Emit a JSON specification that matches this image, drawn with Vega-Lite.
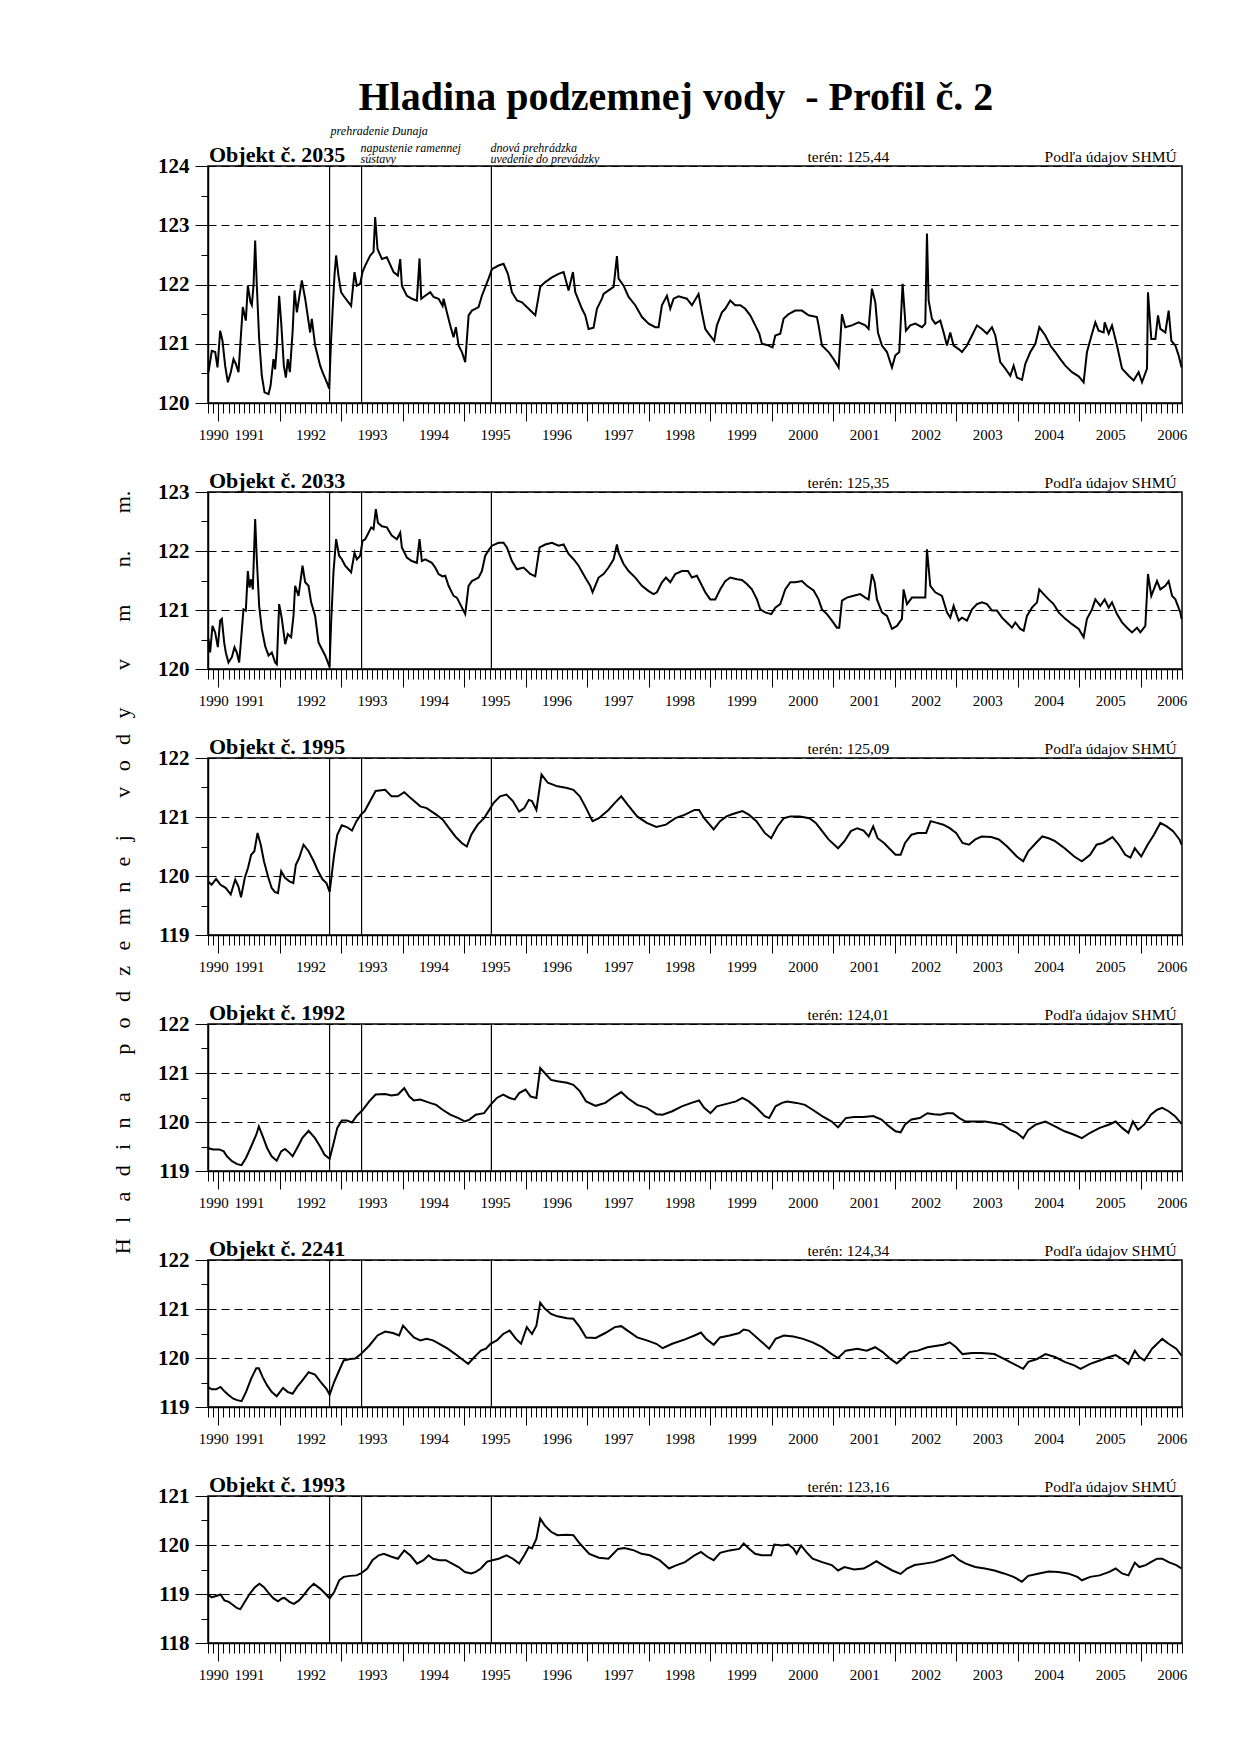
{
  "$schema": "https://vega.github.io/schema/vega-lite/v6.json",
  "background": "white",
  "padding": {"left": 110, "top": 78, "right": 5, "bottom": 5},
  "title": {"text": "Hladina podzemnej vody \u00a0- Profil č. 2", "font": "Liberation Serif", "fontSize": 40, "fontWeight": "bold", "color": "black", "anchor": "middle", "offset": 6.5, "dx": 27},
  "config": {
    "view": {"stroke": "black", "strokeWidth": 1.5},
    "axis": {"domainColor": "black", "domainWidth": 1.5, "tickColor": "black", "tickWidth": 1, "labelColor": "black", "labelFont": "Liberation Serif", "gridColor": "black", "gridDash": [8, 5], "gridWidth": 1, "titleColor": "black", "titleFont": "Liberation Serif"},
    "axisX": {"labelFontSize": 15, "labelPadding": 6, "tickSize": 18, "labelOverlap": false, "labelFlush": false, "labelBound": false, "grid": false},
    "axisY": {"labelFontSize": 21, "labelFontWeight": "bold", "labelPadding": 6, "tickSize": 13, "grid": true, "labelOverlap": false},
    "text": {"font": "Liberation Serif", "color": "black"}
  },
  "bounds": "flush",
  "spacing": 89,
  "datasets": {
    "events": [{"t": 1992.81}, {"t": 1993.33}, {"t": 1995.44}],
    "notes": [
      {"t": 1992.81, "note": "prehradenie Dunaja", "group": "a"},
      {"t": 1993.33, "note": "napustenie ramennej\nsústavy", "group": "b"},
      {"t": 1995.44, "note": "dnová prehrádzka\nuvedenie do prevádzky", "group": "b"}
    ],
    "p2035": [
      {"t":1990.841,"v":120.52},{"t":1990.895,"v":120.88},{"t":1990.95,"v":120.86},{"t":1990.988,"v":120.6},{"t":1991.031,"v":121.22},{"t":1991.069,"v":121.05},{"t":1991.112,"v":120.63},{"t":1991.156,"v":120.35},{"t":1991.204,"v":120.52},{"t":1991.248,"v":120.74},{"t":1991.286,"v":120.66},{"t":1991.329,"v":120.52},{"t":1991.399,"v":121.62},{"t":1991.448,"v":121.39},{"t":1991.481,"v":121.98},{"t":1991.524,"v":121.7},{"t":1991.546,"v":121.65},{"t":1991.573,"v":121.98},{"t":1991.6,"v":122.74},{"t":1991.627,"v":121.98},{"t":1991.665,"v":121.08},{"t":1991.708,"v":120.46},{"t":1991.752,"v":120.18},{"t":1991.817,"v":120.15},{"t":1991.85,"v":120.29},{"t":1991.898,"v":120.74},{"t":1991.925,"v":120.57},{"t":1991.953,"v":120.97},{"t":1991.99,"v":121.81},{"t":1992.023,"v":121.36},{"t":1992.066,"v":120.63},{"t":1992.099,"v":120.43},{"t":1992.131,"v":120.74},{"t":1992.164,"v":120.52},{"t":1992.208,"v":121.19},{"t":1992.24,"v":121.9},{"t":1992.278,"v":121.53},{"t":1992.359,"v":122.07},{"t":1992.413,"v":121.76},{"t":1992.494,"v":121.19},{"t":1992.521,"v":121.42},{"t":1992.575,"v":120.97},{"t":1992.657,"v":120.63},{"t":1992.695,"v":120.52},{"t":1992.765,"v":120.35},{"t":1992.803,"v":120.24},{"t":1992.835,"v":121.08},{"t":1992.889,"v":122.15},{"t":1992.916,"v":122.49},{"t":1992.954,"v":122.15},{"t":1992.997,"v":121.87},{"t":1993.036,"v":121.81},{"t":1993.16,"v":121.64},{"t":1993.215,"v":122.21},{"t":1993.253,"v":121.98},{"t":1993.307,"v":122.01},{"t":1993.345,"v":122.21},{"t":1993.389,"v":122.32},{"t":1993.47,"v":122.49},{"t":1993.524,"v":122.55},{"t":1993.551,"v":123.14},{"t":1993.589,"v":122.6},{"t":1993.66,"v":122.43},{"t":1993.741,"v":122.46},{"t":1993.85,"v":122.21},{"t":1993.92,"v":122.15},{"t":1993.958,"v":122.43},{"t":1993.985,"v":121.98},{"t":1994.066,"v":121.81},{"t":1994.147,"v":121.76},{"t":1994.229,"v":121.73},{"t":1994.272,"v":122.44},{"t":1994.3,"v":121.76},{"t":1994.364,"v":121.81},{"t":1994.446,"v":121.87},{"t":1994.5,"v":121.79},{"t":1994.582,"v":121.76},{"t":1994.647,"v":121.64},{"t":1994.663,"v":121.76},{"t":1994.717,"v":121.53},{"t":1994.771,"v":121.31},{"t":1994.825,"v":121.11},{"t":1994.863,"v":121.28},{"t":1994.907,"v":120.97},{"t":1994.961,"v":120.86},{"t":1995.015,"v":120.69},{"t":1995.07,"v":121.48},{"t":1995.123,"v":121.56},{"t":1995.232,"v":121.62},{"t":1995.286,"v":121.81},{"t":1995.394,"v":122.1},{"t":1995.449,"v":122.26},{"t":1995.557,"v":122.32},{"t":1995.638,"v":122.35},{"t":1995.709,"v":122.18},{"t":1995.774,"v":121.87},{"t":1995.856,"v":121.73},{"t":1995.937,"v":121.7},{"t":1996.046,"v":121.59},{"t":1996.154,"v":121.48},{"t":1996.234,"v":121.96},{"t":1996.316,"v":122.04},{"t":1996.424,"v":122.12},{"t":1996.533,"v":122.18},{"t":1996.614,"v":122.21},{"t":1996.695,"v":121.9},{"t":1996.766,"v":122.21},{"t":1996.804,"v":121.87},{"t":1996.912,"v":121.59},{"t":1996.966,"v":121.48},{"t":1997.02,"v":121.25},{"t":1997.101,"v":121.27},{"t":1997.156,"v":121.59},{"t":1997.237,"v":121.76},{"t":1997.264,"v":121.84},{"t":1997.345,"v":121.9},{"t":1997.427,"v":121.96},{"t":1997.481,"v":122.48},{"t":1997.508,"v":122.1},{"t":1997.589,"v":121.98},{"t":1997.671,"v":121.79},{"t":1997.779,"v":121.65},{"t":1997.888,"v":121.45},{"t":1997.996,"v":121.34},{"t":1998.104,"v":121.28},{"t":1998.158,"v":121.28},{"t":1998.212,"v":121.65},{"t":1998.294,"v":121.81},{"t":1998.348,"v":121.59},{"t":1998.402,"v":121.76},{"t":1998.483,"v":121.8},{"t":1998.618,"v":121.76},{"t":1998.7,"v":121.65},{"t":1998.808,"v":121.84},{"t":1998.862,"v":121.53},{"t":1998.917,"v":121.25},{"t":1998.971,"v":121.17},{"t":1999.063,"v":121.05},{"t":1999.106,"v":121.31},{"t":1999.188,"v":121.53},{"t":1999.242,"v":121.59},{"t":1999.323,"v":121.73},{"t":1999.404,"v":121.65},{"t":1999.486,"v":121.65},{"t":1999.567,"v":121.59},{"t":1999.648,"v":121.48},{"t":1999.73,"v":121.31},{"t":1999.795,"v":121.17},{"t":1999.838,"v":121.0},{"t":1999.919,"v":120.98},{"t":2000.011,"v":120.94},{"t":2000.055,"v":121.14},{"t":2000.136,"v":121.17},{"t":2000.19,"v":121.42},{"t":2000.272,"v":121.5},{"t":2000.38,"v":121.56},{"t":2000.488,"v":121.56},{"t":2000.597,"v":121.48},{"t":2000.732,"v":121.45},{"t":2000.759,"v":121.31},{"t":2000.814,"v":120.97},{"t":2000.922,"v":120.86},{"t":2001.003,"v":120.74},{"t":2001.085,"v":120.6},{"t":2001.139,"v":121.5},{"t":2001.193,"v":121.28},{"t":2001.301,"v":121.31},{"t":2001.41,"v":121.36},{"t":2001.518,"v":121.31},{"t":2001.572,"v":121.25},{"t":2001.627,"v":121.93},{"t":2001.681,"v":121.7},{"t":2001.724,"v":121.19},{"t":2001.789,"v":120.97},{"t":2001.871,"v":120.86},{"t":2001.952,"v":120.6},{"t":2002.006,"v":120.8},{"t":2002.071,"v":120.86},{"t":2002.125,"v":122.01},{"t":2002.179,"v":121.22},{"t":2002.25,"v":121.31},{"t":2002.331,"v":121.34},{"t":2002.44,"v":121.28},{"t":2002.494,"v":121.34},{"t":2002.521,"v":122.86},{"t":2002.548,"v":121.73},{"t":2002.602,"v":121.42},{"t":2002.656,"v":121.34},{"t":2002.738,"v":121.39},{"t":2002.792,"v":121.19},{"t":2002.846,"v":120.97},{"t":2002.9,"v":121.19},{"t":2002.954,"v":120.97},{"t":2003.036,"v":120.91},{"t":2003.09,"v":120.86},{"t":2003.171,"v":120.97},{"t":2003.253,"v":121.14},{"t":2003.334,"v":121.31},{"t":2003.415,"v":121.25},{"t":2003.497,"v":121.17},{"t":2003.578,"v":121.28},{"t":2003.632,"v":121.14},{"t":2003.713,"v":120.69},{"t":2003.795,"v":120.58},{"t":2003.876,"v":120.46},{"t":2003.93,"v":120.63},{"t":2003.984,"v":120.43},{"t":2004.066,"v":120.39},{"t":2004.12,"v":120.66},{"t":2004.201,"v":120.86},{"t":2004.283,"v":121.0},{"t":2004.348,"v":121.28},{"t":2004.445,"v":121.14},{"t":2004.526,"v":120.97},{"t":2004.608,"v":120.86},{"t":2004.689,"v":120.74},{"t":2004.77,"v":120.63},{"t":2004.879,"v":120.52},{"t":2004.987,"v":120.45},{"t":2005.068,"v":120.35},{"t":2005.122,"v":120.86},{"t":2005.204,"v":121.17},{"t":2005.258,"v":121.36},{"t":2005.312,"v":121.22},{"t":2005.393,"v":121.19},{"t":2005.41,"v":121.36},{"t":2005.475,"v":121.17},{"t":2005.529,"v":121.31},{"t":2005.61,"v":120.97},{"t":2005.692,"v":120.58},{"t":2005.8,"v":120.46},{"t":2005.881,"v":120.38},{"t":2005.962,"v":120.52},{"t":2006.017,"v":120.35},{"t":2006.098,"v":120.58},{"t":2006.114,"v":121.87},{"t":2006.168,"v":121.08},{"t":2006.234,"v":121.08},{"t":2006.277,"v":121.48},{"t":2006.315,"v":121.25},{"t":2006.396,"v":121.19},{"t":2006.45,"v":121.56},{"t":2006.494,"v":121.05},{"t":2006.559,"v":120.97},{"t":2006.613,"v":120.8},{"t":2006.66,"v":120.6}
    ],
    "p2033": [
      {"t":1990.841,"v":120.51},{"t":1990.868,"v":120.28},{"t":1990.906,"v":120.73},{"t":1990.95,"v":120.62},{"t":1990.993,"v":120.37},{"t":1991.031,"v":120.82},{"t":1991.058,"v":120.85},{"t":1991.096,"v":120.45},{"t":1991.123,"v":120.28},{"t":1991.166,"v":120.11},{"t":1991.221,"v":120.2},{"t":1991.264,"v":120.37},{"t":1991.302,"v":120.28},{"t":1991.34,"v":120.11},{"t":1991.372,"v":120.51},{"t":1991.41,"v":121.01},{"t":1991.448,"v":120.99},{"t":1991.481,"v":121.66},{"t":1991.508,"v":121.38},{"t":1991.535,"v":121.52},{"t":1991.562,"v":121.35},{"t":1991.6,"v":122.54},{"t":1991.627,"v":121.86},{"t":1991.665,"v":121.07},{"t":1991.708,"v":120.68},{"t":1991.762,"v":120.39},{"t":1991.817,"v":120.23},{"t":1991.871,"v":120.28},{"t":1991.925,"v":120.11},{"t":1991.952,"v":120.08},{"t":1991.99,"v":121.1},{"t":1992.034,"v":120.85},{"t":1992.088,"v":120.42},{"t":1992.131,"v":120.59},{"t":1992.185,"v":120.54},{"t":1992.223,"v":120.9},{"t":1992.25,"v":121.41},{"t":1992.305,"v":121.24},{"t":1992.37,"v":121.75},{"t":1992.413,"v":121.47},{"t":1992.467,"v":121.41},{"t":1992.51,"v":121.13},{"t":1992.575,"v":120.9},{"t":1992.63,"v":120.45},{"t":1992.684,"v":120.34},{"t":1992.738,"v":120.23},{"t":1992.782,"v":120.11},{"t":1992.809,"v":120.03},{"t":1992.835,"v":120.79},{"t":1992.873,"v":121.64},{"t":1992.916,"v":122.2},{"t":1992.965,"v":121.92},{"t":1993.009,"v":121.86},{"t":1993.063,"v":121.75},{"t":1993.16,"v":121.64},{"t":1993.215,"v":121.97},{"t":1993.253,"v":121.86},{"t":1993.307,"v":121.92},{"t":1993.345,"v":122.17},{"t":1993.389,"v":122.2},{"t":1993.443,"v":122.31},{"t":1993.486,"v":122.4},{"t":1993.524,"v":122.37},{"t":1993.562,"v":122.71},{"t":1993.595,"v":122.48},{"t":1993.66,"v":122.42},{"t":1993.741,"v":122.4},{"t":1993.822,"v":122.26},{"t":1993.904,"v":122.2},{"t":1993.958,"v":122.31},{"t":1993.985,"v":122.06},{"t":1994.066,"v":121.89},{"t":1994.147,"v":121.83},{"t":1994.229,"v":121.8},{"t":1994.272,"v":122.2},{"t":1994.31,"v":121.83},{"t":1994.364,"v":121.86},{"t":1994.473,"v":121.8},{"t":1994.527,"v":121.72},{"t":1994.581,"v":121.61},{"t":1994.646,"v":121.57},{"t":1994.69,"v":121.58},{"t":1994.744,"v":121.41},{"t":1994.825,"v":121.24},{"t":1994.879,"v":121.21},{"t":1994.933,"v":121.1},{"t":1995.015,"v":120.93},{"t":1995.069,"v":121.41},{"t":1995.123,"v":121.49},{"t":1995.232,"v":121.55},{"t":1995.286,"v":121.66},{"t":1995.34,"v":121.92},{"t":1995.405,"v":122.03},{"t":1995.449,"v":122.09},{"t":1995.557,"v":122.14},{"t":1995.638,"v":122.14},{"t":1995.692,"v":122.06},{"t":1995.774,"v":121.83},{"t":1995.855,"v":121.69},{"t":1995.964,"v":121.72},{"t":1996.072,"v":121.61},{"t":1996.153,"v":121.57},{"t":1996.224,"v":122.06},{"t":1996.316,"v":122.11},{"t":1996.424,"v":122.14},{"t":1996.533,"v":122.09},{"t":1996.614,"v":122.11},{"t":1996.695,"v":121.95},{"t":1996.776,"v":121.86},{"t":1996.858,"v":121.75},{"t":1996.966,"v":121.55},{"t":1997.047,"v":121.41},{"t":1997.085,"v":121.3},{"t":1997.128,"v":121.41},{"t":1997.183,"v":121.55},{"t":1997.264,"v":121.61},{"t":1997.345,"v":121.72},{"t":1997.427,"v":121.86},{"t":1997.481,"v":122.11},{"t":1997.508,"v":121.97},{"t":1997.589,"v":121.78},{"t":1997.671,"v":121.66},{"t":1997.779,"v":121.55},{"t":1997.887,"v":121.41},{"t":1997.996,"v":121.32},{"t":1998.077,"v":121.27},{"t":1998.131,"v":121.3},{"t":1998.213,"v":121.47},{"t":1998.278,"v":121.55},{"t":1998.348,"v":121.47},{"t":1998.429,"v":121.61},{"t":1998.538,"v":121.66},{"t":1998.635,"v":121.66},{"t":1998.7,"v":121.55},{"t":1998.781,"v":121.58},{"t":1998.835,"v":121.47},{"t":1998.917,"v":121.3},{"t":1998.998,"v":121.18},{"t":1999.079,"v":121.18},{"t":1999.161,"v":121.35},{"t":1999.242,"v":121.49},{"t":1999.323,"v":121.55},{"t":1999.432,"v":121.52},{"t":1999.513,"v":121.51},{"t":1999.594,"v":121.44},{"t":1999.675,"v":121.35},{"t":1999.757,"v":121.18},{"t":1999.811,"v":121.01},{"t":1999.892,"v":120.96},{"t":1999.99,"v":120.93},{"t":2000.055,"v":121.04},{"t":2000.136,"v":121.1},{"t":2000.217,"v":121.35},{"t":2000.299,"v":121.47},{"t":2000.38,"v":121.47},{"t":2000.488,"v":121.49},{"t":2000.57,"v":121.41},{"t":2000.678,"v":121.33},{"t":2000.759,"v":121.18},{"t":2000.814,"v":121.01},{"t":2000.895,"v":120.93},{"t":2000.976,"v":120.82},{"t":2001.057,"v":120.7},{"t":2001.095,"v":120.7},{"t":2001.139,"v":121.16},{"t":2001.22,"v":121.21},{"t":2001.328,"v":121.24},{"t":2001.437,"v":121.27},{"t":2001.518,"v":121.21},{"t":2001.572,"v":121.18},{"t":2001.627,"v":121.61},{"t":2001.67,"v":121.47},{"t":2001.708,"v":121.18},{"t":2001.789,"v":120.96},{"t":2001.871,"v":120.9},{"t":2001.952,"v":120.68},{"t":2002.033,"v":120.73},{"t":2002.114,"v":120.85},{"t":2002.141,"v":121.35},{"t":2002.196,"v":121.1},{"t":2002.277,"v":121.21},{"t":2002.385,"v":121.21},{"t":2002.494,"v":121.21},{"t":2002.521,"v":122.03},{"t":2002.575,"v":121.41},{"t":2002.656,"v":121.3},{"t":2002.765,"v":121.24},{"t":2002.846,"v":120.96},{"t":2002.9,"v":120.87},{"t":2002.954,"v":121.07},{"t":2003.036,"v":120.82},{"t":2003.09,"v":120.87},{"t":2003.171,"v":120.82},{"t":2003.253,"v":121.01},{"t":2003.334,"v":121.1},{"t":2003.415,"v":121.13},{"t":2003.497,"v":121.1},{"t":2003.578,"v":120.99},{"t":2003.659,"v":120.99},{"t":2003.741,"v":120.87},{"t":2003.849,"v":120.76},{"t":2003.903,"v":120.7},{"t":2003.957,"v":120.79},{"t":2004.038,"v":120.68},{"t":2004.093,"v":120.65},{"t":2004.147,"v":120.9},{"t":2004.228,"v":121.04},{"t":2004.31,"v":121.13},{"t":2004.347,"v":121.35},{"t":2004.418,"v":121.27},{"t":2004.499,"v":121.18},{"t":2004.58,"v":121.1},{"t":2004.662,"v":120.96},{"t":2004.77,"v":120.85},{"t":2004.879,"v":120.76},{"t":2004.987,"v":120.68},{"t":2005.068,"v":120.54},{"t":2005.122,"v":120.85},{"t":2005.204,"v":121.01},{"t":2005.258,"v":121.18},{"t":2005.339,"v":121.07},{"t":2005.41,"v":121.18},{"t":2005.475,"v":121.04},{"t":2005.529,"v":121.13},{"t":2005.61,"v":120.93},{"t":2005.692,"v":120.79},{"t":2005.773,"v":120.7},{"t":2005.854,"v":120.62},{"t":2005.936,"v":120.7},{"t":2005.99,"v":120.62},{"t":2006.071,"v":120.73},{"t":2006.114,"v":121.61},{"t":2006.168,"v":121.24},{"t":2006.261,"v":121.49},{"t":2006.315,"v":121.35},{"t":2006.396,"v":121.41},{"t":2006.45,"v":121.49},{"t":2006.505,"v":121.24},{"t":2006.559,"v":121.18},{"t":2006.64,"v":120.96},{"t":2006.66,"v":120.85}
    ],
    "p1995": [
      {"t":1990.83,"v":119.91},{"t":1990.892,"v":119.85},{"t":1990.965,"v":119.95},{"t":1991.037,"v":119.85},{"t":1991.12,"v":119.8},{"t":1991.203,"v":119.69},{"t":1991.276,"v":119.94},{"t":1991.328,"v":119.82},{"t":1991.37,"v":119.64},{"t":1991.432,"v":119.97},{"t":1991.484,"v":120.14},{"t":1991.535,"v":120.36},{"t":1991.587,"v":120.42},{"t":1991.639,"v":120.73},{"t":1991.691,"v":120.53},{"t":1991.743,"v":120.25},{"t":1991.815,"v":119.97},{"t":1991.867,"v":119.8},{"t":1991.919,"v":119.73},{"t":1991.971,"v":119.71},{"t":1992.023,"v":120.08},{"t":1992.085,"v":119.97},{"t":1992.158,"v":119.91},{"t":1992.22,"v":119.88},{"t":1992.261,"v":120.19},{"t":1992.313,"v":120.3},{"t":1992.386,"v":120.53},{"t":1992.469,"v":120.42},{"t":1992.552,"v":120.25},{"t":1992.624,"v":120.08},{"t":1992.697,"v":119.94},{"t":1992.759,"v":119.88},{"t":1992.811,"v":119.73},{"t":1992.884,"v":120.36},{"t":1992.935,"v":120.7},{"t":1993.008,"v":120.86},{"t":1993.091,"v":120.83},{"t":1993.174,"v":120.77},{"t":1993.247,"v":120.93},{"t":1993.319,"v":121.04},{"t":1993.381,"v":121.1},{"t":1993.454,"v":121.24},{"t":1993.558,"v":121.44},{"t":1993.713,"v":121.46},{"t":1993.817,"v":121.35},{"t":1993.921,"v":121.35},{"t":1994.024,"v":121.42},{"t":1994.128,"v":121.32},{"t":1994.284,"v":121.18},{"t":1994.388,"v":121.15},{"t":1994.543,"v":121.04},{"t":1994.647,"v":120.96},{"t":1994.751,"v":120.81},{"t":1994.854,"v":120.67},{"t":1994.958,"v":120.56},{"t":1995.041,"v":120.5},{"t":1995.113,"v":120.7},{"t":1995.217,"v":120.87},{"t":1995.321,"v":120.98},{"t":1995.394,"v":121.1},{"t":1995.477,"v":121.24},{"t":1995.581,"v":121.35},{"t":1995.685,"v":121.38},{"t":1995.789,"v":121.27},{"t":1995.892,"v":121.09},{"t":1995.975,"v":121.15},{"t":1996.048,"v":121.29},{"t":1996.1,"v":121.27},{"t":1996.172,"v":121.12},{"t":1996.255,"v":121.72},{"t":1996.358,"v":121.58},{"t":1996.514,"v":121.52},{"t":1996.67,"v":121.49},{"t":1996.773,"v":121.46},{"t":1996.877,"v":121.35},{"t":1996.98,"v":121.15},{"t":1997.084,"v":120.93},{"t":1997.188,"v":120.98},{"t":1997.343,"v":121.12},{"t":1997.447,"v":121.24},{"t":1997.551,"v":121.35},{"t":1997.654,"v":121.21},{"t":1997.81,"v":121.01},{"t":1997.966,"v":120.9},{"t":1998.121,"v":120.83},{"t":1998.277,"v":120.87},{"t":1998.432,"v":120.98},{"t":1998.588,"v":121.04},{"t":1998.743,"v":121.12},{"t":1998.816,"v":121.12},{"t":1998.899,"v":120.98},{"t":1999.054,"v":120.79},{"t":1999.158,"v":120.93},{"t":1999.262,"v":121.01},{"t":1999.365,"v":121.05},{"t":1999.521,"v":121.1},{"t":1999.625,"v":121.04},{"t":1999.749,"v":120.93},{"t":1999.884,"v":120.73},{"t":1999.988,"v":120.64},{"t":2000.091,"v":120.84},{"t":2000.195,"v":120.98},{"t":2000.299,"v":121.01},{"t":2000.454,"v":121.01},{"t":2000.61,"v":120.98},{"t":2000.714,"v":120.9},{"t":2000.817,"v":120.76},{"t":2000.921,"v":120.62},{"t":2001.076,"v":120.47},{"t":2001.18,"v":120.59},{"t":2001.284,"v":120.76},{"t":2001.388,"v":120.81},{"t":2001.491,"v":120.77},{"t":2001.574,"v":120.67},{"t":2001.647,"v":120.84},{"t":2001.719,"v":120.64},{"t":2001.823,"v":120.56},{"t":2001.906,"v":120.47},{"t":2002.01,"v":120.36},{"t":2002.093,"v":120.36},{"t":2002.165,"v":120.56},{"t":2002.269,"v":120.7},{"t":2002.373,"v":120.73},{"t":2002.508,"v":120.73},{"t":2002.58,"v":120.93},{"t":2002.684,"v":120.9},{"t":2002.788,"v":120.87},{"t":2002.891,"v":120.81},{"t":2002.995,"v":120.73},{"t":2003.099,"v":120.56},{"t":2003.203,"v":120.53},{"t":2003.306,"v":120.62},{"t":2003.41,"v":120.67},{"t":2003.566,"v":120.66},{"t":2003.69,"v":120.62},{"t":2003.825,"v":120.5},{"t":2003.981,"v":120.33},{"t":2004.085,"v":120.25},{"t":2004.168,"v":120.42},{"t":2004.292,"v":120.56},{"t":2004.396,"v":120.67},{"t":2004.499,"v":120.64},{"t":2004.603,"v":120.59},{"t":2004.759,"v":120.47},{"t":2004.915,"v":120.33},{"t":2005.039,"v":120.25},{"t":2005.174,"v":120.36},{"t":2005.278,"v":120.53},{"t":2005.381,"v":120.56},{"t":2005.537,"v":120.66},{"t":2005.641,"v":120.53},{"t":2005.745,"v":120.36},{"t":2005.828,"v":120.31},{"t":2005.9,"v":120.47},{"t":2006.004,"v":120.33},{"t":2006.108,"v":120.53},{"t":2006.211,"v":120.7},{"t":2006.315,"v":120.9},{"t":2006.419,"v":120.84},{"t":2006.522,"v":120.76},{"t":2006.626,"v":120.62},{"t":2006.66,"v":120.53}
    ],
    "p1992": [
      {"t":1990.83,"v":119.47},{"t":1990.913,"v":119.44},{"t":1991.017,"v":119.44},{"t":1991.089,"v":119.4},{"t":1991.141,"v":119.3},{"t":1991.224,"v":119.2},{"t":1991.307,"v":119.14},{"t":1991.38,"v":119.12},{"t":1991.452,"v":119.27},{"t":1991.535,"v":119.5},{"t":1991.618,"v":119.74},{"t":1991.66,"v":119.91},{"t":1991.722,"v":119.71},{"t":1991.794,"v":119.47},{"t":1991.867,"v":119.3},{"t":1991.95,"v":119.21},{"t":1992.023,"v":119.4},{"t":1992.085,"v":119.45},{"t":1992.158,"v":119.37},{"t":1992.209,"v":119.3},{"t":1992.282,"v":119.47},{"t":1992.365,"v":119.67},{"t":1992.469,"v":119.82},{"t":1992.573,"v":119.67},{"t":1992.656,"v":119.5},{"t":1992.728,"v":119.33},{"t":1992.811,"v":119.25},{"t":1992.884,"v":119.61},{"t":1992.935,"v":119.88},{"t":1993.008,"v":120.03},{"t":1993.091,"v":120.03},{"t":1993.174,"v":119.99},{"t":1993.247,"v":120.12},{"t":1993.35,"v":120.25},{"t":1993.454,"v":120.42},{"t":1993.558,"v":120.56},{"t":1993.713,"v":120.57},{"t":1993.817,"v":120.54},{"t":1993.921,"v":120.56},{"t":1994.024,"v":120.69},{"t":1994.107,"v":120.52},{"t":1994.18,"v":120.44},{"t":1994.284,"v":120.46},{"t":1994.44,"v":120.39},{"t":1994.543,"v":120.35},{"t":1994.647,"v":120.25},{"t":1994.771,"v":120.15},{"t":1994.906,"v":120.08},{"t":1995.01,"v":120.01},{"t":1995.083,"v":120.05},{"t":1995.186,"v":120.15},{"t":1995.321,"v":120.18},{"t":1995.425,"v":120.35},{"t":1995.528,"v":120.49},{"t":1995.632,"v":120.56},{"t":1995.737,"v":120.49},{"t":1995.82,"v":120.46},{"t":1995.892,"v":120.59},{"t":1995.996,"v":120.66},{"t":1996.079,"v":120.52},{"t":1996.172,"v":120.49},{"t":1996.234,"v":121.1},{"t":1996.307,"v":121.0},{"t":1996.41,"v":120.86},{"t":1996.514,"v":120.83},{"t":1996.67,"v":120.8},{"t":1996.773,"v":120.76},{"t":1996.877,"v":120.63},{"t":1996.98,"v":120.42},{"t":1997.136,"v":120.33},{"t":1997.291,"v":120.39},{"t":1997.447,"v":120.53},{"t":1997.551,"v":120.61},{"t":1997.654,"v":120.49},{"t":1997.81,"v":120.35},{"t":1997.966,"v":120.29},{"t":1998.121,"v":120.16},{"t":1998.225,"v":120.15},{"t":1998.38,"v":120.22},{"t":1998.536,"v":120.32},{"t":1998.692,"v":120.39},{"t":1998.816,"v":120.44},{"t":1998.899,"v":120.29},{"t":1999.002,"v":120.18},{"t":1999.106,"v":120.32},{"t":1999.262,"v":120.37},{"t":1999.417,"v":120.42},{"t":1999.521,"v":120.49},{"t":1999.625,"v":120.42},{"t":1999.749,"v":120.29},{"t":1999.884,"v":120.12},{"t":1999.956,"v":120.08},{"t":2000.06,"v":120.32},{"t":2000.164,"v":120.39},{"t":2000.247,"v":120.42},{"t":2000.402,"v":120.39},{"t":2000.537,"v":120.35},{"t":2000.662,"v":120.25},{"t":2000.817,"v":120.12},{"t":2000.973,"v":120.01},{"t":2001.076,"v":119.89},{"t":2001.201,"v":120.08},{"t":2001.336,"v":120.1},{"t":2001.491,"v":120.1},{"t":2001.647,"v":120.12},{"t":2001.782,"v":120.05},{"t":2001.906,"v":119.91},{"t":2002.01,"v":119.81},{"t":2002.093,"v":119.79},{"t":2002.165,"v":119.95},{"t":2002.269,"v":120.05},{"t":2002.404,"v":120.08},{"t":2002.529,"v":120.18},{"t":2002.632,"v":120.16},{"t":2002.736,"v":120.15},{"t":2002.84,"v":120.18},{"t":2002.943,"v":120.18},{"t":2003.047,"v":120.08},{"t":2003.151,"v":120.01},{"t":2003.306,"v":120.01},{"t":2003.462,"v":120.01},{"t":2003.617,"v":119.98},{"t":2003.752,"v":119.95},{"t":2003.877,"v":119.84},{"t":2003.981,"v":119.78},{"t":2004.085,"v":119.67},{"t":2004.168,"v":119.84},{"t":2004.292,"v":119.95},{"t":2004.447,"v":120.01},{"t":2004.603,"v":119.91},{"t":2004.759,"v":119.81},{"t":2004.915,"v":119.74},{"t":2005.039,"v":119.67},{"t":2005.174,"v":119.78},{"t":2005.329,"v":119.88},{"t":2005.485,"v":119.95},{"t":2005.589,"v":120.01},{"t":2005.693,"v":119.88},{"t":2005.796,"v":119.78},{"t":2005.869,"v":120.01},{"t":2005.952,"v":119.84},{"t":2006.056,"v":119.95},{"t":2006.16,"v":120.15},{"t":2006.263,"v":120.25},{"t":2006.346,"v":120.29},{"t":2006.449,"v":120.22},{"t":2006.553,"v":120.12},{"t":2006.66,"v":119.96}
    ],
    "p2241": [
      {"t":1990.83,"v":119.41},{"t":1990.892,"v":119.36},{"t":1990.965,"v":119.36},{"t":1991.037,"v":119.41},{"t":1991.1,"v":119.32},{"t":1991.172,"v":119.24},{"t":1991.245,"v":119.17},{"t":1991.307,"v":119.14},{"t":1991.38,"v":119.12},{"t":1991.452,"v":119.31},{"t":1991.535,"v":119.58},{"t":1991.618,"v":119.79},{"t":1991.66,"v":119.79},{"t":1991.722,"v":119.61},{"t":1991.794,"v":119.44},{"t":1991.867,"v":119.31},{"t":1991.95,"v":119.22},{"t":1992.023,"v":119.34},{"t":1992.054,"v":119.39},{"t":1992.126,"v":119.31},{"t":1992.209,"v":119.27},{"t":1992.282,"v":119.41},{"t":1992.365,"v":119.54},{"t":1992.469,"v":119.71},{"t":1992.573,"v":119.66},{"t":1992.677,"v":119.49},{"t":1992.759,"v":119.37},{"t":1992.811,"v":119.25},{"t":1992.884,"v":119.51},{"t":1992.967,"v":119.75},{"t":1993.039,"v":119.95},{"t":1993.143,"v":119.98},{"t":1993.226,"v":119.99},{"t":1993.319,"v":120.08},{"t":1993.454,"v":120.25},{"t":1993.589,"v":120.46},{"t":1993.713,"v":120.54},{"t":1993.838,"v":120.51},{"t":1993.941,"v":120.46},{"t":1994.004,"v":120.66},{"t":1994.076,"v":120.56},{"t":1994.18,"v":120.42},{"t":1994.284,"v":120.36},{"t":1994.388,"v":120.39},{"t":1994.491,"v":120.36},{"t":1994.595,"v":120.29},{"t":1994.73,"v":120.19},{"t":1994.854,"v":120.08},{"t":1994.958,"v":119.98},{"t":1995.062,"v":119.88},{"t":1995.165,"v":120.02},{"t":1995.269,"v":120.15},{"t":1995.352,"v":120.19},{"t":1995.425,"v":120.29},{"t":1995.528,"v":120.36},{"t":1995.632,"v":120.49},{"t":1995.737,"v":120.56},{"t":1995.84,"v":120.39},{"t":1995.923,"v":120.29},{"t":1996.016,"v":120.63},{"t":1996.1,"v":120.49},{"t":1996.172,"v":120.66},{"t":1996.234,"v":121.13},{"t":1996.307,"v":121.01},{"t":1996.41,"v":120.9},{"t":1996.514,"v":120.85},{"t":1996.67,"v":120.81},{"t":1996.773,"v":120.8},{"t":1996.877,"v":120.63},{"t":1996.98,"v":120.42},{"t":1997.136,"v":120.41},{"t":1997.291,"v":120.51},{"t":1997.447,"v":120.63},{"t":1997.551,"v":120.65},{"t":1997.654,"v":120.56},{"t":1997.81,"v":120.42},{"t":1997.966,"v":120.36},{"t":1998.121,"v":120.29},{"t":1998.225,"v":120.2},{"t":1998.38,"v":120.29},{"t":1998.588,"v":120.38},{"t":1998.743,"v":120.46},{"t":1998.847,"v":120.52},{"t":1998.93,"v":120.39},{"t":1999.054,"v":120.27},{"t":1999.158,"v":120.42},{"t":1999.313,"v":120.46},{"t":1999.469,"v":120.51},{"t":1999.542,"v":120.58},{"t":1999.625,"v":120.56},{"t":1999.78,"v":120.39},{"t":1999.956,"v":120.19},{"t":2000.06,"v":120.39},{"t":2000.195,"v":120.46},{"t":2000.35,"v":120.44},{"t":2000.506,"v":120.39},{"t":2000.662,"v":120.32},{"t":2000.817,"v":120.22},{"t":2000.973,"v":120.08},{"t":2001.076,"v":120.0},{"t":2001.201,"v":120.15},{"t":2001.388,"v":120.19},{"t":2001.543,"v":120.15},{"t":2001.678,"v":120.22},{"t":2001.802,"v":120.12},{"t":2001.927,"v":119.98},{"t":2002.031,"v":119.89},{"t":2002.113,"v":119.98},{"t":2002.238,"v":120.12},{"t":2002.373,"v":120.15},{"t":2002.529,"v":120.22},{"t":2002.684,"v":120.25},{"t":2002.788,"v":120.27},{"t":2002.891,"v":120.32},{"t":2002.995,"v":120.22},{"t":2003.099,"v":120.08},{"t":2003.254,"v":120.1},{"t":2003.41,"v":120.1},{"t":2003.617,"v":120.08},{"t":2003.773,"v":119.98},{"t":2003.929,"v":119.88},{"t":2004.085,"v":119.78},{"t":2004.168,"v":119.92},{"t":2004.312,"v":119.98},{"t":2004.447,"v":120.08},{"t":2004.603,"v":120.02},{"t":2004.759,"v":119.92},{"t":2004.915,"v":119.85},{"t":2005.018,"v":119.78},{"t":2005.174,"v":119.88},{"t":2005.329,"v":119.95},{"t":2005.485,"v":120.02},{"t":2005.589,"v":120.06},{"t":2005.693,"v":119.98},{"t":2005.796,"v":119.88},{"t":2005.9,"v":120.15},{"t":2005.973,"v":120.02},{"t":2006.056,"v":119.95},{"t":2006.18,"v":120.19},{"t":2006.263,"v":120.29},{"t":2006.346,"v":120.39},{"t":2006.449,"v":120.29},{"t":2006.574,"v":120.19},{"t":2006.66,"v":120.05}
    ],
    "p1993": [
      {"t":1990.83,"v":119.0},{"t":1990.892,"v":118.93},{"t":1990.965,"v":118.96},{"t":1991.037,"v":118.99},{"t":1991.1,"v":118.87},{"t":1991.172,"v":118.84},{"t":1991.245,"v":118.77},{"t":1991.307,"v":118.71},{"t":1991.359,"v":118.69},{"t":1991.432,"v":118.84},{"t":1991.515,"v":119.01},{"t":1991.597,"v":119.14},{"t":1991.67,"v":119.21},{"t":1991.743,"v":119.14},{"t":1991.826,"v":119.01},{"t":1991.898,"v":118.91},{"t":1991.971,"v":118.85},{"t":1992.033,"v":118.91},{"t":1992.075,"v":118.92},{"t":1992.158,"v":118.84},{"t":1992.23,"v":118.8},{"t":1992.313,"v":118.87},{"t":1992.386,"v":118.97},{"t":1992.469,"v":119.11},{"t":1992.552,"v":119.21},{"t":1992.656,"v":119.11},{"t":1992.738,"v":119.01},{"t":1992.811,"v":118.91},{"t":1992.884,"v":119.04},{"t":1992.967,"v":119.28},{"t":1993.039,"v":119.35},{"t":1993.143,"v":119.37},{"t":1993.247,"v":119.38},{"t":1993.319,"v":119.42},{"t":1993.423,"v":119.52},{"t":1993.506,"v":119.69},{"t":1993.609,"v":119.79},{"t":1993.692,"v":119.82},{"t":1993.817,"v":119.76},{"t":1993.921,"v":119.72},{"t":1994.024,"v":119.89},{"t":1994.128,"v":119.78},{"t":1994.232,"v":119.62},{"t":1994.336,"v":119.69},{"t":1994.419,"v":119.79},{"t":1994.491,"v":119.72},{"t":1994.595,"v":119.69},{"t":1994.699,"v":119.69},{"t":1994.802,"v":119.62},{"t":1994.906,"v":119.55},{"t":1995.01,"v":119.45},{"t":1995.113,"v":119.42},{"t":1995.186,"v":119.45},{"t":1995.269,"v":119.52},{"t":1995.373,"v":119.66},{"t":1995.456,"v":119.69},{"t":1995.559,"v":119.72},{"t":1995.685,"v":119.79},{"t":1995.789,"v":119.72},{"t":1995.892,"v":119.62},{"t":1995.975,"v":119.79},{"t":1996.048,"v":119.96},{"t":1996.1,"v":119.93},{"t":1996.172,"v":120.13},{"t":1996.234,"v":120.54},{"t":1996.307,"v":120.4},{"t":1996.41,"v":120.27},{"t":1996.514,"v":120.2},{"t":1996.67,"v":120.21},{"t":1996.773,"v":120.2},{"t":1996.877,"v":120.03},{"t":1997.032,"v":119.82},{"t":1997.188,"v":119.74},{"t":1997.343,"v":119.72},{"t":1997.499,"v":119.92},{"t":1997.603,"v":119.94},{"t":1997.758,"v":119.89},{"t":1997.882,"v":119.82},{"t":1998.017,"v":119.79},{"t":1998.173,"v":119.69},{"t":1998.329,"v":119.52},{"t":1998.432,"v":119.58},{"t":1998.588,"v":119.65},{"t":1998.743,"v":119.79},{"t":1998.847,"v":119.86},{"t":1998.951,"v":119.76},{"t":1999.054,"v":119.69},{"t":1999.158,"v":119.84},{"t":1999.313,"v":119.89},{"t":1999.469,"v":119.92},{"t":1999.542,"v":120.03},{"t":1999.625,"v":119.93},{"t":1999.728,"v":119.82},{"t":1999.832,"v":119.79},{"t":1999.988,"v":119.79},{"t":2000.039,"v":120.01},{"t":2000.164,"v":119.99},{"t":2000.267,"v":120.01},{"t":2000.35,"v":119.93},{"t":2000.402,"v":119.82},{"t":2000.475,"v":119.99},{"t":2000.558,"v":119.86},{"t":2000.662,"v":119.72},{"t":2000.817,"v":119.65},{"t":2000.973,"v":119.59},{"t":2001.076,"v":119.48},{"t":2001.18,"v":119.55},{"t":2001.336,"v":119.5},{"t":2001.491,"v":119.52},{"t":2001.595,"v":119.59},{"t":2001.699,"v":119.67},{"t":2001.802,"v":119.59},{"t":2001.958,"v":119.48},{"t":2002.093,"v":119.41},{"t":2002.196,"v":119.52},{"t":2002.321,"v":119.59},{"t":2002.477,"v":119.62},{"t":2002.632,"v":119.65},{"t":2002.788,"v":119.72},{"t":2002.943,"v":119.8},{"t":2003.047,"v":119.69},{"t":2003.151,"v":119.62},{"t":2003.306,"v":119.55},{"t":2003.462,"v":119.52},{"t":2003.617,"v":119.48},{"t":2003.773,"v":119.42},{"t":2003.929,"v":119.35},{"t":2004.064,"v":119.25},{"t":2004.168,"v":119.37},{"t":2004.343,"v":119.42},{"t":2004.499,"v":119.46},{"t":2004.655,"v":119.45},{"t":2004.811,"v":119.42},{"t":2004.967,"v":119.35},{"t":2005.039,"v":119.28},{"t":2005.174,"v":119.35},{"t":2005.329,"v":119.38},{"t":2005.485,"v":119.45},{"t":2005.589,"v":119.52},{"t":2005.693,"v":119.42},{"t":2005.796,"v":119.38},{"t":2005.9,"v":119.64},{"t":2005.973,"v":119.55},{"t":2006.077,"v":119.59},{"t":2006.16,"v":119.65},{"t":2006.263,"v":119.72},{"t":2006.346,"v":119.72},{"t":2006.449,"v":119.65},{"t":2006.574,"v":119.59},{"t":2006.66,"v":119.52}
    ]
  },
  "vconcat": [
    {
      "width": 974, "height": 237,
      "layer": [
        {"data": {"name": "p2035"}, "mark": {"type": "line", "color": "black", "strokeWidth": 2},
         "encoding": {
           "x": {"field": "t", "type": "quantitative", "scale": {"domain": [1990.8333, 2006.667], "nice": false, "zero": false},
                 "axis": {"title": null, "tickCount": 400, "labelOverlap": false, "labelFlush": false, "labelBound": false, "values": [1990.8333,1990.9167,1991,1991.0833,1991.1667,1991.25,1991.3333,1991.4167,1991.5,1991.5833,1991.6667,1991.75,1991.8333,1991.9167,1992,1992.0833,1992.1667,1992.25,1992.3333,1992.4167,1992.5,1992.5833,1992.6667,1992.75,1992.8333,1992.9167,1993,1993.0833,1993.1667,1993.25,1993.3333,1993.4167,1993.5,1993.5833,1993.6667,1993.75,1993.8333,1993.9167,1994,1994.0833,1994.1667,1994.25,1994.3333,1994.4167,1994.5,1994.5833,1994.6667,1994.75,1994.8333,1994.9167,1995,1995.0833,1995.1667,1995.25,1995.3333,1995.4167,1995.5,1995.5833,1995.6667,1995.75,1995.8333,1995.9167,1996,1996.0833,1996.1667,1996.25,1996.3333,1996.4167,1996.5,1996.5833,1996.6667,1996.75,1996.8333,1996.9167,1997,1997.0833,1997.1667,1997.25,1997.3333,1997.4167,1997.5,1997.5833,1997.6667,1997.75,1997.8333,1997.9167,1998,1998.0833,1998.1667,1998.25,1998.3333,1998.4167,1998.5,1998.5833,1998.6667,1998.75,1998.8333,1998.9167,1999,1999.0833,1999.1667,1999.25,1999.3333,1999.4167,1999.5,1999.5833,1999.6667,1999.75,1999.8333,1999.9167,2000,2000.0833,2000.1667,2000.25,2000.3333,2000.4167,2000.5,2000.5833,2000.6667,2000.75,2000.8333,2000.9167,2001,2001.0833,2001.1667,2001.25,2001.3333,2001.4167,2001.5,2001.5833,2001.6667,2001.75,2001.8333,2001.9167,2002,2002.0833,2002.1667,2002.25,2002.3333,2002.4167,2002.5,2002.5833,2002.6667,2002.75,2002.8333,2002.9167,2003,2003.0833,2003.1667,2003.25,2003.3333,2003.4167,2003.5,2003.5833,2003.6667,2003.75,2003.8333,2003.9167,2004,2004.0833,2004.1667,2004.25,2004.3333,2004.4167,2004.5,2004.5833,2004.6667,2004.75,2004.8333,2004.9167,2005,2005.0833,2005.1667,2005.25,2005.3333,2005.4167,2005.5,2005.5833,2005.6667,2005.75,2005.8333,2005.9167,2006,2006.0833,2006.1667,2006.25,2006.3333,2006.4167,2006.5,2006.5833,2006.6667],
                          "labelExpr": "abs(datum.value - floor(datum.value) - 0.5) < 0.01 ? floor(datum.value) + '' : (abs(datum.value - 1990.9167) < 0.01 ? '1990' : '')",
                          "tickDash": {"condition": {"test": "datum.value - floor(datum.value) > 0.01", "value": [10, 10]}, "value": []}}},
           "y": {"field": "v", "type": "quantitative", "scale": {"domain": [120, 124], "nice": false, "zero": false},
                 "axis": {"title": null, "tickCount": 50, "values": [120,120.5,121,121.5,122,122.5,123,123.5,124], "labelExpr": "datum.value % 1 === 0 ? floor(datum.value) + '' : ''",
                          "tickDash": {"condition": {"test": "datum.value % 1 !== 0", "value": [7, 7]}, "value": []},
                          "gridOpacity": {"condition": {"test": "datum.value % 1 !== 0", "value": 0}, "value": 1}}}
         }},
        {"data": {"name": "events"}, "mark": {"type": "rule", "color": "black", "strokeWidth": 1.2}, "encoding": {"x": {"field": "t", "type": "quantitative"}}},
        {"data": {"values": [{"label": "Objekt č. 2035"}]}, "mark": {"type": "text", "align": "left", "baseline": "alphabetic", "dy": -4, "dx": 1, "fontSize": 22, "fontWeight": "bold"}, "encoding": {"x": {"datum": 1990.8333}, "y": {"datum": 124}, "text": {"field": "label"}}},
        {"data": {"values": [{"label": "terén: 125,44"}]}, "mark": {"type": "text", "align": "left", "baseline": "alphabetic", "dy": -4, "fontSize": 15.5}, "encoding": {"x": {"datum": 2000.58}, "y": {"datum": 124}, "text": {"field": "label"}}},
        {"data": {"values": [{"label": "Podľa údajov SHMÚ"}]}, "mark": {"type": "text", "align": "right", "baseline": "alphabetic", "dy": -4, "fontSize": 15.5}, "encoding": {"x": {"datum": 2006.58}, "y": {"datum": 124}, "text": {"field": "label"}}},
        {"data": {"name": "notes"}, "transform": [{"filter": "datum.group === 'a'"}], "mark": {"type": "text", "align": "left", "baseline": "alphabetic", "dy": -30.6, "dx": 1, "fontSize": 12, "fontStyle": "italic"}, "encoding": {"x": {"field": "t", "type": "quantitative"}, "y": {"datum": 124}, "text": {"field": "note"}}},
        {"data": {"name": "notes"}, "transform": [{"filter": "datum.group === 'b'"}], "mark": {"type": "text", "align": "left", "baseline": "alphabetic", "dy": -14.3, "dx": -1, "fontSize": 12, "fontStyle": "italic", "lineBreak": "\n", "lineHeight": 11}, "encoding": {"x": {"field": "t", "type": "quantitative"}, "y": {"datum": 124}, "text": {"field": "note"}}}
      ]
    },
    {
      "width": 974, "height": 177,
      "layer": [
        {"data": {"name": "p2033"}, "mark": {"type": "line", "color": "black", "strokeWidth": 2},
         "encoding": {
           "x": {"field": "t", "type": "quantitative", "scale": {"domain": [1990.8333, 2006.667], "nice": false, "zero": false},
                 "axis": {"title": null, "tickCount": 400, "labelOverlap": false, "labelFlush": false, "labelBound": false, "values": [1990.8333,1990.9167,1991,1991.0833,1991.1667,1991.25,1991.3333,1991.4167,1991.5,1991.5833,1991.6667,1991.75,1991.8333,1991.9167,1992,1992.0833,1992.1667,1992.25,1992.3333,1992.4167,1992.5,1992.5833,1992.6667,1992.75,1992.8333,1992.9167,1993,1993.0833,1993.1667,1993.25,1993.3333,1993.4167,1993.5,1993.5833,1993.6667,1993.75,1993.8333,1993.9167,1994,1994.0833,1994.1667,1994.25,1994.3333,1994.4167,1994.5,1994.5833,1994.6667,1994.75,1994.8333,1994.9167,1995,1995.0833,1995.1667,1995.25,1995.3333,1995.4167,1995.5,1995.5833,1995.6667,1995.75,1995.8333,1995.9167,1996,1996.0833,1996.1667,1996.25,1996.3333,1996.4167,1996.5,1996.5833,1996.6667,1996.75,1996.8333,1996.9167,1997,1997.0833,1997.1667,1997.25,1997.3333,1997.4167,1997.5,1997.5833,1997.6667,1997.75,1997.8333,1997.9167,1998,1998.0833,1998.1667,1998.25,1998.3333,1998.4167,1998.5,1998.5833,1998.6667,1998.75,1998.8333,1998.9167,1999,1999.0833,1999.1667,1999.25,1999.3333,1999.4167,1999.5,1999.5833,1999.6667,1999.75,1999.8333,1999.9167,2000,2000.0833,2000.1667,2000.25,2000.3333,2000.4167,2000.5,2000.5833,2000.6667,2000.75,2000.8333,2000.9167,2001,2001.0833,2001.1667,2001.25,2001.3333,2001.4167,2001.5,2001.5833,2001.6667,2001.75,2001.8333,2001.9167,2002,2002.0833,2002.1667,2002.25,2002.3333,2002.4167,2002.5,2002.5833,2002.6667,2002.75,2002.8333,2002.9167,2003,2003.0833,2003.1667,2003.25,2003.3333,2003.4167,2003.5,2003.5833,2003.6667,2003.75,2003.8333,2003.9167,2004,2004.0833,2004.1667,2004.25,2004.3333,2004.4167,2004.5,2004.5833,2004.6667,2004.75,2004.8333,2004.9167,2005,2005.0833,2005.1667,2005.25,2005.3333,2005.4167,2005.5,2005.5833,2005.6667,2005.75,2005.8333,2005.9167,2006,2006.0833,2006.1667,2006.25,2006.3333,2006.4167,2006.5,2006.5833,2006.6667],
                          "labelExpr": "abs(datum.value - floor(datum.value) - 0.5) < 0.01 ? floor(datum.value) + '' : (abs(datum.value - 1990.9167) < 0.01 ? '1990' : '')",
                          "tickDash": {"condition": {"test": "datum.value - floor(datum.value) > 0.01", "value": [10, 10]}, "value": []}}},
           "y": {"field": "v", "type": "quantitative", "scale": {"domain": [120, 123], "nice": false, "zero": false},
                 "axis": {"title": "H\u2002\u2009l\u2002\u2009a\u2002\u2009d\u2002\u2009i\u2002\u2009n\u2002\u2009a\u2003\u2002\u2009p\u2002\u2009o\u2002\u2009d\u2002\u2009z\u2002\u2009e\u2002\u2009m\u2002\u2009n\u2002\u2009e\u2002\u2009j\u2003\u2002\u2009v\u2002\u2009o\u2002\u2009d\u2002\u2009y\u2003\u2002\u2009v\u2003\u2002\u2009m\u2003\u2002\u2009n.\u2003\u2002\u2009m.",
                          "titleFontSize": 22, "titleFontWeight": "normal", "titleX": -74, "titleY": 380, "titleAngle": -90, "titleBaseline": "bottom", "titleAlign": "center",
                          "tickCount": 50, "values": [120,120.5,121,121.5,122,122.5,123], "labelExpr": "datum.value % 1 === 0 ? floor(datum.value) + '' : ''",
                          "tickDash": {"condition": {"test": "datum.value % 1 !== 0", "value": [7, 7]}, "value": []},
                          "gridOpacity": {"condition": {"test": "datum.value % 1 !== 0", "value": 0}, "value": 1}}}
         }},
        {"data": {"name": "events"}, "mark": {"type": "rule", "color": "black", "strokeWidth": 1.2}, "encoding": {"x": {"field": "t", "type": "quantitative"}}},
        {"data": {"values": [{"label": "Objekt č. 2033"}]}, "mark": {"type": "text", "align": "left", "baseline": "alphabetic", "dy": -4, "dx": 1, "fontSize": 22, "fontWeight": "bold"}, "encoding": {"x": {"datum": 1990.8333}, "y": {"datum": 123}, "text": {"field": "label"}}},
        {"data": {"values": [{"label": "terén: 125,35"}]}, "mark": {"type": "text", "align": "left", "baseline": "alphabetic", "dy": -4, "fontSize": 15.5}, "encoding": {"x": {"datum": 2000.58}, "y": {"datum": 123}, "text": {"field": "label"}}},
        {"data": {"values": [{"label": "Podľa údajov SHMÚ"}]}, "mark": {"type": "text", "align": "right", "baseline": "alphabetic", "dy": -4, "fontSize": 15.5}, "encoding": {"x": {"datum": 2006.58}, "y": {"datum": 123}, "text": {"field": "label"}}}
      ]
    },
    {
      "width": 974, "height": 177,
      "layer": [
        {"data": {"name": "p1995"}, "mark": {"type": "line", "color": "black", "strokeWidth": 2},
         "encoding": {
           "x": {"field": "t", "type": "quantitative", "scale": {"domain": [1990.8333, 2006.667], "nice": false, "zero": false},
                 "axis": {"title": null, "tickCount": 400, "labelOverlap": false, "labelFlush": false, "labelBound": false, "values": [1990.8333,1990.9167,1991,1991.0833,1991.1667,1991.25,1991.3333,1991.4167,1991.5,1991.5833,1991.6667,1991.75,1991.8333,1991.9167,1992,1992.0833,1992.1667,1992.25,1992.3333,1992.4167,1992.5,1992.5833,1992.6667,1992.75,1992.8333,1992.9167,1993,1993.0833,1993.1667,1993.25,1993.3333,1993.4167,1993.5,1993.5833,1993.6667,1993.75,1993.8333,1993.9167,1994,1994.0833,1994.1667,1994.25,1994.3333,1994.4167,1994.5,1994.5833,1994.6667,1994.75,1994.8333,1994.9167,1995,1995.0833,1995.1667,1995.25,1995.3333,1995.4167,1995.5,1995.5833,1995.6667,1995.75,1995.8333,1995.9167,1996,1996.0833,1996.1667,1996.25,1996.3333,1996.4167,1996.5,1996.5833,1996.6667,1996.75,1996.8333,1996.9167,1997,1997.0833,1997.1667,1997.25,1997.3333,1997.4167,1997.5,1997.5833,1997.6667,1997.75,1997.8333,1997.9167,1998,1998.0833,1998.1667,1998.25,1998.3333,1998.4167,1998.5,1998.5833,1998.6667,1998.75,1998.8333,1998.9167,1999,1999.0833,1999.1667,1999.25,1999.3333,1999.4167,1999.5,1999.5833,1999.6667,1999.75,1999.8333,1999.9167,2000,2000.0833,2000.1667,2000.25,2000.3333,2000.4167,2000.5,2000.5833,2000.6667,2000.75,2000.8333,2000.9167,2001,2001.0833,2001.1667,2001.25,2001.3333,2001.4167,2001.5,2001.5833,2001.6667,2001.75,2001.8333,2001.9167,2002,2002.0833,2002.1667,2002.25,2002.3333,2002.4167,2002.5,2002.5833,2002.6667,2002.75,2002.8333,2002.9167,2003,2003.0833,2003.1667,2003.25,2003.3333,2003.4167,2003.5,2003.5833,2003.6667,2003.75,2003.8333,2003.9167,2004,2004.0833,2004.1667,2004.25,2004.3333,2004.4167,2004.5,2004.5833,2004.6667,2004.75,2004.8333,2004.9167,2005,2005.0833,2005.1667,2005.25,2005.3333,2005.4167,2005.5,2005.5833,2005.6667,2005.75,2005.8333,2005.9167,2006,2006.0833,2006.1667,2006.25,2006.3333,2006.4167,2006.5,2006.5833,2006.6667],
                          "labelExpr": "abs(datum.value - floor(datum.value) - 0.5) < 0.01 ? floor(datum.value) + '' : (abs(datum.value - 1990.9167) < 0.01 ? '1990' : '')",
                          "tickDash": {"condition": {"test": "datum.value - floor(datum.value) > 0.01", "value": [10, 10]}, "value": []}}},
           "y": {"field": "v", "type": "quantitative", "scale": {"domain": [119, 122], "nice": false, "zero": false},
                 "axis": {"title": null, "tickCount": 50, "values": [119,119.5,120,120.5,121,121.5,122], "labelExpr": "datum.value % 1 === 0 ? floor(datum.value) + '' : ''",
                          "tickDash": {"condition": {"test": "datum.value % 1 !== 0", "value": [7, 7]}, "value": []},
                          "gridOpacity": {"condition": {"test": "datum.value % 1 !== 0", "value": 0}, "value": 1}}}
         }},
        {"data": {"name": "events"}, "mark": {"type": "rule", "color": "black", "strokeWidth": 1.2}, "encoding": {"x": {"field": "t", "type": "quantitative"}}},
        {"data": {"values": [{"label": "Objekt č. 1995"}]}, "mark": {"type": "text", "align": "left", "baseline": "alphabetic", "dy": -4, "dx": 1, "fontSize": 22, "fontWeight": "bold"}, "encoding": {"x": {"datum": 1990.8333}, "y": {"datum": 122}, "text": {"field": "label"}}},
        {"data": {"values": [{"label": "terén: 125,09"}]}, "mark": {"type": "text", "align": "left", "baseline": "alphabetic", "dy": -4, "fontSize": 15.5}, "encoding": {"x": {"datum": 2000.58}, "y": {"datum": 122}, "text": {"field": "label"}}},
        {"data": {"values": [{"label": "Podľa údajov SHMÚ"}]}, "mark": {"type": "text", "align": "right", "baseline": "alphabetic", "dy": -4, "fontSize": 15.5}, "encoding": {"x": {"datum": 2006.58}, "y": {"datum": 122}, "text": {"field": "label"}}}
      ]
    },
    {
      "width": 974, "height": 147,
      "layer": [
        {"data": {"name": "p1992"}, "mark": {"type": "line", "color": "black", "strokeWidth": 2},
         "encoding": {
           "x": {"field": "t", "type": "quantitative", "scale": {"domain": [1990.8333, 2006.667], "nice": false, "zero": false},
                 "axis": {"title": null, "tickCount": 400, "labelOverlap": false, "labelFlush": false, "labelBound": false, "values": [1990.8333,1990.9167,1991,1991.0833,1991.1667,1991.25,1991.3333,1991.4167,1991.5,1991.5833,1991.6667,1991.75,1991.8333,1991.9167,1992,1992.0833,1992.1667,1992.25,1992.3333,1992.4167,1992.5,1992.5833,1992.6667,1992.75,1992.8333,1992.9167,1993,1993.0833,1993.1667,1993.25,1993.3333,1993.4167,1993.5,1993.5833,1993.6667,1993.75,1993.8333,1993.9167,1994,1994.0833,1994.1667,1994.25,1994.3333,1994.4167,1994.5,1994.5833,1994.6667,1994.75,1994.8333,1994.9167,1995,1995.0833,1995.1667,1995.25,1995.3333,1995.4167,1995.5,1995.5833,1995.6667,1995.75,1995.8333,1995.9167,1996,1996.0833,1996.1667,1996.25,1996.3333,1996.4167,1996.5,1996.5833,1996.6667,1996.75,1996.8333,1996.9167,1997,1997.0833,1997.1667,1997.25,1997.3333,1997.4167,1997.5,1997.5833,1997.6667,1997.75,1997.8333,1997.9167,1998,1998.0833,1998.1667,1998.25,1998.3333,1998.4167,1998.5,1998.5833,1998.6667,1998.75,1998.8333,1998.9167,1999,1999.0833,1999.1667,1999.25,1999.3333,1999.4167,1999.5,1999.5833,1999.6667,1999.75,1999.8333,1999.9167,2000,2000.0833,2000.1667,2000.25,2000.3333,2000.4167,2000.5,2000.5833,2000.6667,2000.75,2000.8333,2000.9167,2001,2001.0833,2001.1667,2001.25,2001.3333,2001.4167,2001.5,2001.5833,2001.6667,2001.75,2001.8333,2001.9167,2002,2002.0833,2002.1667,2002.25,2002.3333,2002.4167,2002.5,2002.5833,2002.6667,2002.75,2002.8333,2002.9167,2003,2003.0833,2003.1667,2003.25,2003.3333,2003.4167,2003.5,2003.5833,2003.6667,2003.75,2003.8333,2003.9167,2004,2004.0833,2004.1667,2004.25,2004.3333,2004.4167,2004.5,2004.5833,2004.6667,2004.75,2004.8333,2004.9167,2005,2005.0833,2005.1667,2005.25,2005.3333,2005.4167,2005.5,2005.5833,2005.6667,2005.75,2005.8333,2005.9167,2006,2006.0833,2006.1667,2006.25,2006.3333,2006.4167,2006.5,2006.5833,2006.6667],
                          "labelExpr": "abs(datum.value - floor(datum.value) - 0.5) < 0.01 ? floor(datum.value) + '' : (abs(datum.value - 1990.9167) < 0.01 ? '1990' : '')",
                          "tickDash": {"condition": {"test": "datum.value - floor(datum.value) > 0.01", "value": [10, 10]}, "value": []}}},
           "y": {"field": "v", "type": "quantitative", "scale": {"domain": [119, 122], "nice": false, "zero": false},
                 "axis": {"title": null, "tickCount": 50, "values": [119,119.5,120,120.5,121,121.5,122], "labelExpr": "datum.value % 1 === 0 ? floor(datum.value) + '' : ''",
                          "tickDash": {"condition": {"test": "datum.value % 1 !== 0", "value": [7, 7]}, "value": []},
                          "gridOpacity": {"condition": {"test": "datum.value % 1 !== 0", "value": 0}, "value": 1}}}
         }},
        {"data": {"name": "events"}, "mark": {"type": "rule", "color": "black", "strokeWidth": 1.2}, "encoding": {"x": {"field": "t", "type": "quantitative"}}},
        {"data": {"values": [{"label": "Objekt č. 1992"}]}, "mark": {"type": "text", "align": "left", "baseline": "alphabetic", "dy": -4, "dx": 1, "fontSize": 22, "fontWeight": "bold"}, "encoding": {"x": {"datum": 1990.8333}, "y": {"datum": 122}, "text": {"field": "label"}}},
        {"data": {"values": [{"label": "terén: 124,01"}]}, "mark": {"type": "text", "align": "left", "baseline": "alphabetic", "dy": -4, "fontSize": 15.5}, "encoding": {"x": {"datum": 2000.58}, "y": {"datum": 122}, "text": {"field": "label"}}},
        {"data": {"values": [{"label": "Podľa údajov SHMÚ"}]}, "mark": {"type": "text", "align": "right", "baseline": "alphabetic", "dy": -4, "fontSize": 15.5}, "encoding": {"x": {"datum": 2006.58}, "y": {"datum": 122}, "text": {"field": "label"}}}
      ]
    },
    {
      "width": 974, "height": 147,
      "layer": [
        {"data": {"name": "p2241"}, "mark": {"type": "line", "color": "black", "strokeWidth": 2},
         "encoding": {
           "x": {"field": "t", "type": "quantitative", "scale": {"domain": [1990.8333, 2006.667], "nice": false, "zero": false},
                 "axis": {"title": null, "tickCount": 400, "labelOverlap": false, "labelFlush": false, "labelBound": false, "values": [1990.8333,1990.9167,1991,1991.0833,1991.1667,1991.25,1991.3333,1991.4167,1991.5,1991.5833,1991.6667,1991.75,1991.8333,1991.9167,1992,1992.0833,1992.1667,1992.25,1992.3333,1992.4167,1992.5,1992.5833,1992.6667,1992.75,1992.8333,1992.9167,1993,1993.0833,1993.1667,1993.25,1993.3333,1993.4167,1993.5,1993.5833,1993.6667,1993.75,1993.8333,1993.9167,1994,1994.0833,1994.1667,1994.25,1994.3333,1994.4167,1994.5,1994.5833,1994.6667,1994.75,1994.8333,1994.9167,1995,1995.0833,1995.1667,1995.25,1995.3333,1995.4167,1995.5,1995.5833,1995.6667,1995.75,1995.8333,1995.9167,1996,1996.0833,1996.1667,1996.25,1996.3333,1996.4167,1996.5,1996.5833,1996.6667,1996.75,1996.8333,1996.9167,1997,1997.0833,1997.1667,1997.25,1997.3333,1997.4167,1997.5,1997.5833,1997.6667,1997.75,1997.8333,1997.9167,1998,1998.0833,1998.1667,1998.25,1998.3333,1998.4167,1998.5,1998.5833,1998.6667,1998.75,1998.8333,1998.9167,1999,1999.0833,1999.1667,1999.25,1999.3333,1999.4167,1999.5,1999.5833,1999.6667,1999.75,1999.8333,1999.9167,2000,2000.0833,2000.1667,2000.25,2000.3333,2000.4167,2000.5,2000.5833,2000.6667,2000.75,2000.8333,2000.9167,2001,2001.0833,2001.1667,2001.25,2001.3333,2001.4167,2001.5,2001.5833,2001.6667,2001.75,2001.8333,2001.9167,2002,2002.0833,2002.1667,2002.25,2002.3333,2002.4167,2002.5,2002.5833,2002.6667,2002.75,2002.8333,2002.9167,2003,2003.0833,2003.1667,2003.25,2003.3333,2003.4167,2003.5,2003.5833,2003.6667,2003.75,2003.8333,2003.9167,2004,2004.0833,2004.1667,2004.25,2004.3333,2004.4167,2004.5,2004.5833,2004.6667,2004.75,2004.8333,2004.9167,2005,2005.0833,2005.1667,2005.25,2005.3333,2005.4167,2005.5,2005.5833,2005.6667,2005.75,2005.8333,2005.9167,2006,2006.0833,2006.1667,2006.25,2006.3333,2006.4167,2006.5,2006.5833,2006.6667],
                          "labelExpr": "abs(datum.value - floor(datum.value) - 0.5) < 0.01 ? floor(datum.value) + '' : (abs(datum.value - 1990.9167) < 0.01 ? '1990' : '')",
                          "tickDash": {"condition": {"test": "datum.value - floor(datum.value) > 0.01", "value": [10, 10]}, "value": []}}},
           "y": {"field": "v", "type": "quantitative", "scale": {"domain": [119, 122], "nice": false, "zero": false},
                 "axis": {"title": null, "tickCount": 50, "values": [119,119.5,120,120.5,121,121.5,122], "labelExpr": "datum.value % 1 === 0 ? floor(datum.value) + '' : ''",
                          "tickDash": {"condition": {"test": "datum.value % 1 !== 0", "value": [7, 7]}, "value": []},
                          "gridOpacity": {"condition": {"test": "datum.value % 1 !== 0", "value": 0}, "value": 1}}}
         }},
        {"data": {"name": "events"}, "mark": {"type": "rule", "color": "black", "strokeWidth": 1.2}, "encoding": {"x": {"field": "t", "type": "quantitative"}}},
        {"data": {"values": [{"label": "Objekt č. 2241"}]}, "mark": {"type": "text", "align": "left", "baseline": "alphabetic", "dy": -4, "dx": 1, "fontSize": 22, "fontWeight": "bold"}, "encoding": {"x": {"datum": 1990.8333}, "y": {"datum": 122}, "text": {"field": "label"}}},
        {"data": {"values": [{"label": "terén: 124,34"}]}, "mark": {"type": "text", "align": "left", "baseline": "alphabetic", "dy": -4, "fontSize": 15.5}, "encoding": {"x": {"datum": 2000.58}, "y": {"datum": 122}, "text": {"field": "label"}}},
        {"data": {"values": [{"label": "Podľa údajov SHMÚ"}]}, "mark": {"type": "text", "align": "right", "baseline": "alphabetic", "dy": -4, "fontSize": 15.5}, "encoding": {"x": {"datum": 2006.58}, "y": {"datum": 122}, "text": {"field": "label"}}}
      ]
    },
    {
      "width": 974, "height": 147,
      "layer": [
        {"data": {"name": "p1993"}, "mark": {"type": "line", "color": "black", "strokeWidth": 2},
         "encoding": {
           "x": {"field": "t", "type": "quantitative", "scale": {"domain": [1990.8333, 2006.667], "nice": false, "zero": false},
                 "axis": {"title": null, "tickCount": 400, "labelOverlap": false, "labelFlush": false, "labelBound": false, "values": [1990.8333,1990.9167,1991,1991.0833,1991.1667,1991.25,1991.3333,1991.4167,1991.5,1991.5833,1991.6667,1991.75,1991.8333,1991.9167,1992,1992.0833,1992.1667,1992.25,1992.3333,1992.4167,1992.5,1992.5833,1992.6667,1992.75,1992.8333,1992.9167,1993,1993.0833,1993.1667,1993.25,1993.3333,1993.4167,1993.5,1993.5833,1993.6667,1993.75,1993.8333,1993.9167,1994,1994.0833,1994.1667,1994.25,1994.3333,1994.4167,1994.5,1994.5833,1994.6667,1994.75,1994.8333,1994.9167,1995,1995.0833,1995.1667,1995.25,1995.3333,1995.4167,1995.5,1995.5833,1995.6667,1995.75,1995.8333,1995.9167,1996,1996.0833,1996.1667,1996.25,1996.3333,1996.4167,1996.5,1996.5833,1996.6667,1996.75,1996.8333,1996.9167,1997,1997.0833,1997.1667,1997.25,1997.3333,1997.4167,1997.5,1997.5833,1997.6667,1997.75,1997.8333,1997.9167,1998,1998.0833,1998.1667,1998.25,1998.3333,1998.4167,1998.5,1998.5833,1998.6667,1998.75,1998.8333,1998.9167,1999,1999.0833,1999.1667,1999.25,1999.3333,1999.4167,1999.5,1999.5833,1999.6667,1999.75,1999.8333,1999.9167,2000,2000.0833,2000.1667,2000.25,2000.3333,2000.4167,2000.5,2000.5833,2000.6667,2000.75,2000.8333,2000.9167,2001,2001.0833,2001.1667,2001.25,2001.3333,2001.4167,2001.5,2001.5833,2001.6667,2001.75,2001.8333,2001.9167,2002,2002.0833,2002.1667,2002.25,2002.3333,2002.4167,2002.5,2002.5833,2002.6667,2002.75,2002.8333,2002.9167,2003,2003.0833,2003.1667,2003.25,2003.3333,2003.4167,2003.5,2003.5833,2003.6667,2003.75,2003.8333,2003.9167,2004,2004.0833,2004.1667,2004.25,2004.3333,2004.4167,2004.5,2004.5833,2004.6667,2004.75,2004.8333,2004.9167,2005,2005.0833,2005.1667,2005.25,2005.3333,2005.4167,2005.5,2005.5833,2005.6667,2005.75,2005.8333,2005.9167,2006,2006.0833,2006.1667,2006.25,2006.3333,2006.4167,2006.5,2006.5833,2006.6667],
                          "labelExpr": "abs(datum.value - floor(datum.value) - 0.5) < 0.01 ? floor(datum.value) + '' : (abs(datum.value - 1990.9167) < 0.01 ? '1990' : '')",
                          "tickDash": {"condition": {"test": "datum.value - floor(datum.value) > 0.01", "value": [10, 10]}, "value": []}}},
           "y": {"field": "v", "type": "quantitative", "scale": {"domain": [118, 121], "nice": false, "zero": false},
                 "axis": {"title": null, "tickCount": 50, "values": [118,118.5,119,119.5,120,120.5,121], "labelExpr": "datum.value % 1 === 0 ? floor(datum.value) + '' : ''",
                          "tickDash": {"condition": {"test": "datum.value % 1 !== 0", "value": [7, 7]}, "value": []},
                          "gridOpacity": {"condition": {"test": "datum.value % 1 !== 0", "value": 0}, "value": 1}}}
         }},
        {"data": {"name": "events"}, "mark": {"type": "rule", "color": "black", "strokeWidth": 1.2}, "encoding": {"x": {"field": "t", "type": "quantitative"}}},
        {"data": {"values": [{"label": "Objekt č. 1993"}]}, "mark": {"type": "text", "align": "left", "baseline": "alphabetic", "dy": -4, "dx": 1, "fontSize": 22, "fontWeight": "bold"}, "encoding": {"x": {"datum": 1990.8333}, "y": {"datum": 121}, "text": {"field": "label"}}},
        {"data": {"values": [{"label": "terén: 123,16"}]}, "mark": {"type": "text", "align": "left", "baseline": "alphabetic", "dy": -4, "fontSize": 15.5}, "encoding": {"x": {"datum": 2000.58}, "y": {"datum": 121}, "text": {"field": "label"}}},
        {"data": {"values": [{"label": "Podľa údajov SHMÚ"}]}, "mark": {"type": "text", "align": "right", "baseline": "alphabetic", "dy": -4, "fontSize": 15.5}, "encoding": {"x": {"datum": 2006.58}, "y": {"datum": 121}, "text": {"field": "label"}}}
      ]
    }
  ]
}
